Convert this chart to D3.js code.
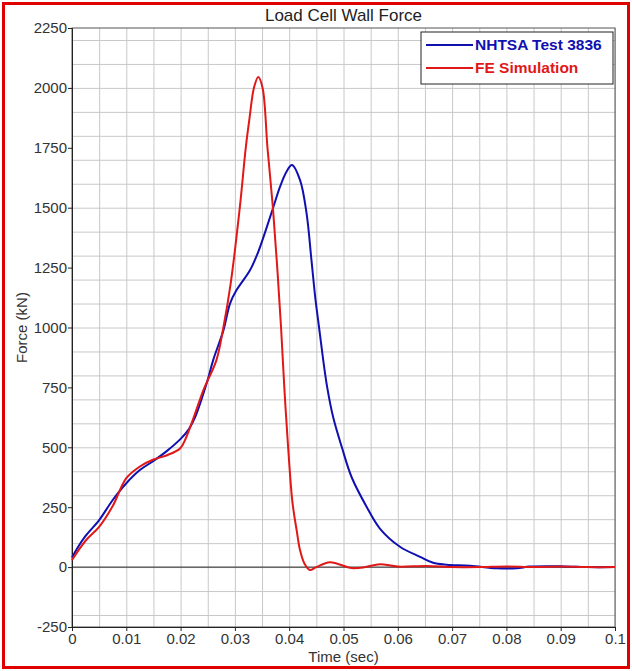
<!DOCTYPE html>
<html lang="en">
<head>
    <meta charset="UTF-8">
    <title>Load Cell Wall Force</title>
    <script src="https://d3js.org/d3.v7.min.js"></script>
    <style>
        body { margin: 0; background: #fff; }
        text { font-family: "Liberation Sans", Arial, sans-serif; }
    </style>
</head>
<body>
    <div id="chart"></div>

    <script>
        // NHTSA test data (time in sec, force in kN)
        var nhtsaTime = [0, 0.001, 0.0025, 0.005, 0.0075, 0.01, 0.0125, 0.015, 0.0175, 0.02, 0.0215, 0.0227, 0.0248, 0.026, 0.0279, 0.0291, 0.0303, 0.0328, 0.0343, 0.0371, 0.0383, 0.0395, 0.0405, 0.042, 0.0432, 0.0441, 0.0448, 0.0455, 0.0462, 0.047, 0.0481, 0.0497, 0.0515, 0.0543, 0.0567, 0.0604, 0.0641, 0.0665, 0.069, 0.0733, 0.0782, 0.0819, 0.0843, 0.0905, 0.095, 0.1];
        var nhtsaForce = [40, 80, 130, 196, 280, 350, 405, 443, 485, 535, 575, 627, 767, 864, 989, 1100, 1156, 1240, 1316, 1504, 1587, 1650, 1678, 1615, 1476, 1281, 1125, 1000, 875, 750, 625, 500, 375, 250, 161, 85, 43, 18, 10, 6, -5, -5, 2, 3, 0, 0];

        // FE simulation data
        var feTime = [0, 0.0025, 0.005, 0.0075, 0.01, 0.0125, 0.015, 0.0175, 0.0199, 0.021, 0.0225, 0.0242, 0.0266, 0.0279, 0.0292, 0.0309, 0.032, 0.0327, 0.0335, 0.0343, 0.0351, 0.036, 0.037, 0.0378, 0.0385, 0.0391, 0.0398, 0.0406, 0.0414, 0.042, 0.0428, 0.0438, 0.045, 0.0475, 0.0515, 0.054, 0.0567, 0.06, 0.0653, 0.07, 0.075, 0.08, 0.085, 0.09, 0.095, 0.1];
        var feForce = [30, 110, 168, 255, 371, 420, 449, 467, 495, 540, 630, 739, 864, 1003, 1180, 1500, 1750, 1875, 2000, 2046, 2000, 1750, 1500, 1250, 1000, 750, 500, 270, 150, 70, 15, -12, 0, 20, -4, 0, 12, 2, 5, 0, 0, 3, 0, 3, 0, 0];

        var seriesNames = ["NHTSA Test 3836", "FE Simulation"];
        var seriesColors = ["#1010b0", "#e01818"];

        // Axis ticks
        var xTicks = [0, 0.01, 0.02, 0.03, 0.04, 0.05, 0.06, 0.07, 0.08, 0.09, 0.1];
        var yTicks = [-250, 0, 250, 500, 750, 1000, 1250, 1500, 1750, 2000, 2250];

        var svg = d3.select("#chart")
            .append("svg")
            .attr("width", 632)
            .attr("height", 671);

        // Red outer frame
        svg.append("rect")
            .attr("x", 3.5)
            .attr("y", 3.5)
            .attr("width", 625)
            .attr("height", 664)
            .attr("fill", "#fff")
            .attr("stroke", "#e00000")
            .attr("stroke-width", 3);

        var margin = { top: 28, right: 17, bottom: 44, left: 72 };
        var width = 632 - margin.left - margin.right;
        var height = 671 - margin.top - margin.bottom;

        var x = d3.scaleLinear().domain([0, 0.1]).range([0, width]);
        var y = d3.scaleLinear().domain([-250, 2250]).range([height, 0]);

        var g = svg.append("g")
            .attr("transform", "translate(" + margin.left + "," + margin.top + ")");

        // Grid (every 0.005 sec and 125 kN)
        g.append("g")
            .call(d3.axisBottom(x).ticks(20).tickSize(height).tickFormat(""))
            .call(function(s) { s.select(".domain").remove(); })
            .selectAll("line")
            .attr("stroke", "#c8c8c8");

        g.append("g")
            .call(d3.axisLeft(y).ticks(20).tickSize(-width).tickFormat(""))
            .call(function(s) { s.select(".domain").remove(); })
            .selectAll("line")
            .attr("stroke", "#c8c8c8");

        // Zero line
        g.append("line")
            .attr("x1", 0)
            .attr("x2", width)
            .attr("y1", y(0))
            .attr("y2", y(0))
            .attr("stroke", "#222")
            .attr("stroke-width", 1);

        // Plot frame
        g.append("rect")
            .attr("width", width)
            .attr("height", height)
            .attr("fill", "none")
            .attr("stroke", "#555");

        // Axes
        var xAxis = g.append("g")
            .attr("transform", "translate(0," + height + ")")
            .call(d3.axisBottom(x).tickValues(xTicks).tickSize(4).tickFormat(function(d) { return String(+d.toFixed(3)); }));
        xAxis.select(".domain").attr("stroke", "#222");
        xAxis.selectAll("line").attr("stroke", "#222");
        xAxis.selectAll("text")
            .attr("y", 6)
            .style("font-size", "15px")
            .attr("fill", "#333");

        var yAxis = g.append("g")
            .call(d3.axisLeft(y).tickValues(yTicks).tickSize(4).tickFormat(function(d) { return String(d); }));
        yAxis.select(".domain").attr("stroke", "#222");
        yAxis.selectAll("line").attr("stroke", "#222");
        yAxis.selectAll("text")
            .attr("x", -5)
            .style("font-size", "15px")
            .attr("fill", "#333");

        // Curves
        var line = d3.line()
            .x(function(d) { return x(d[0]); })
            .y(function(d) { return y(d[1]); })
            .curve(d3.curveCatmullRom.alpha(0.5));

        var nhtsaData = nhtsaTime.map(function(t, i) { return [t, nhtsaForce[i]]; });
        var feData = feTime.map(function(t, i) { return [t, feForce[i]]; });

        g.append("path")
            .datum(nhtsaData)
            .attr("d", line)
            .attr("fill", "none")
            .attr("stroke", seriesColors[0])
            .attr("stroke-width", 2);

        g.append("path")
            .datum(feData)
            .attr("d", line)
            .attr("fill", "none")
            .attr("stroke", seriesColors[1])
            .attr("stroke-width", 2);

        // Title
        svg.append("text")
            .attr("x", margin.left + width / 2)
            .attr("y", 21)
            .attr("text-anchor", "middle")
            .style("font-size", "17px")
            .attr("fill", "#222")
            .text("Load Cell Wall Force");

        // Axis labels
        svg.append("text")
            .attr("x", margin.left + width / 2)
            .attr("y", 662)
            .attr("text-anchor", "middle")
            .style("font-size", "15px")
            .attr("fill", "#333")
            .text("Time (sec)");

        svg.append("text")
            .attr("transform", "translate(27," + (margin.top + height / 2) + ") rotate(-90)")
            .attr("text-anchor", "middle")
            .style("font-size", "15px")
            .attr("fill", "#333")
            .text("Force (kN)");

        // Legend
        var legend = svg.append("g")
            .attr("transform", "translate(421,32)");

        legend.append("rect")
            .attr("width", 192)
            .attr("height", 52)
            .attr("fill", "#fff")
            .attr("stroke", "#222");

        seriesNames.forEach(function(name, i) {
            legend.append("line")
                .attr("x1", 5)
                .attr("x2", 52)
                .attr("y1", 13 + i * 23)
                .attr("y2", 13 + i * 23)
                .attr("stroke", seriesColors[i])
                .attr("stroke-width", 2);
            legend.append("text")
                .attr("x", 54)
                .attr("y", 18 + i * 23)
                .style("font-size", "15.5px")
                .style("font-weight", "bold")
                .attr("fill", seriesColors[i])
                .text(name);
        });
    </script>
</body>
</html>
